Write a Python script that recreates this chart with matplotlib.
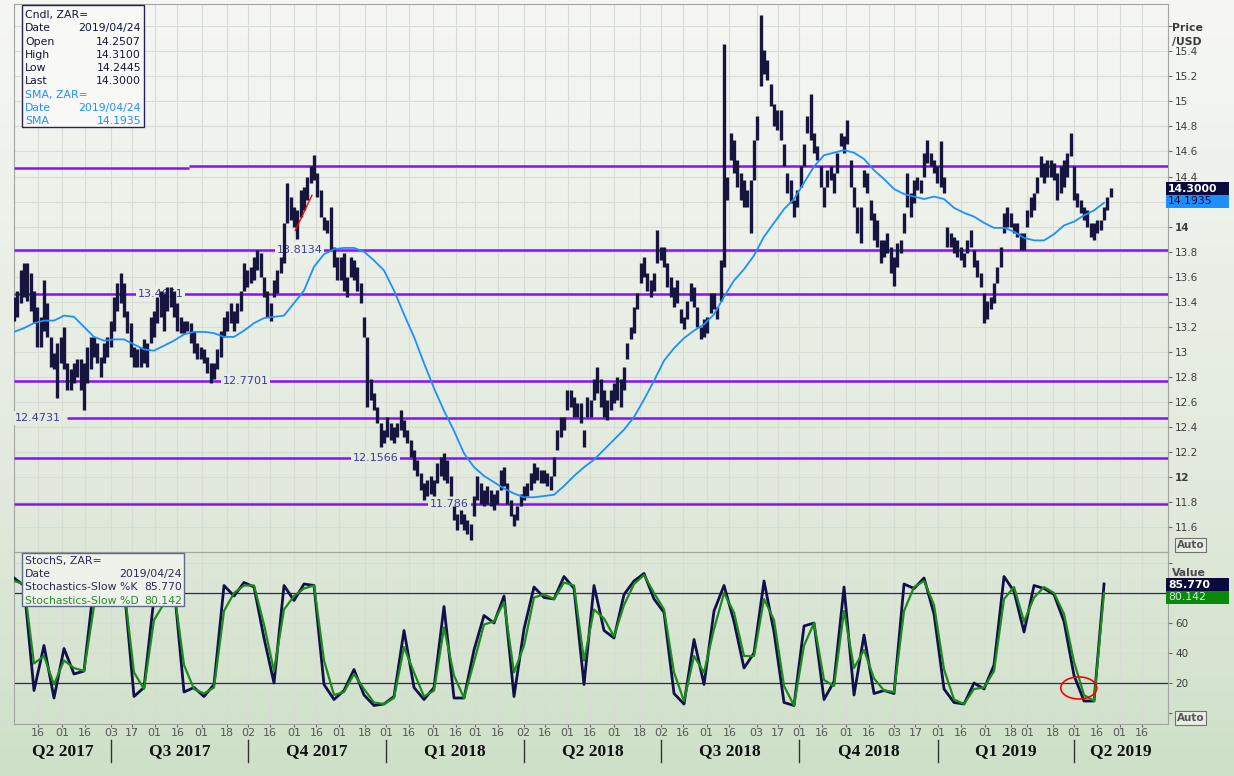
import numpy as np
import matplotlib.pyplot as plt
from matplotlib.patches import Rectangle, Ellipse
from matplotlib.transforms import blended_transform_factory

W, H = 1234, 776

# ---- data ----
base_date = np.datetime64('2017-04-30')
x_end = 763.0  # days shown after base_date

candle_step = 2.204  # days between candle samples
candle_hi = [
    13.44, 13.49, 13.65, 13.71, 13.71, 13.63, 13.49, 13.36, 13.28, 13.57,
    13.39, 13.12, 12.99, 13.07, 13.12, 13.20, 12.91, 12.86, 12.91, 12.94,
    12.94, 12.91, 13.04, 13.12, 13.12, 13.07, 12.96, 13.07, 13.12, 13.25,
    13.44, 13.55, 13.63, 13.55, 13.33, 13.23, 13.04, 13.02, 13.04, 13.10,
    13.07, 13.28, 13.33, 13.44, 13.49, 13.47, 13.52, 13.52, 13.49, 13.39,
    13.28, 13.25, 13.25, 13.23, 13.17, 13.07, 13.04, 13.02, 12.96, 12.91,
    12.91, 13.02, 13.17, 13.28, 13.33, 13.39, 13.33, 13.39, 13.49, 13.71,
    13.65, 13.68, 13.76, 13.81, 13.79, 13.60, 13.49, 13.39, 13.57, 13.65,
    13.76, 14.03, 14.35, 14.24, 14.16, 14.13,
    14.29, 14.32, 14.40, 14.48, 14.57, 14.43, 14.29, 14.08, 14.05, 14.16,
    13.84, 13.76, 13.76, 13.79, 13.60, 13.76, 13.73, 13.68, 13.55, 13.28,
    13.12, 12.78, 12.67, 12.56, 12.43, 12.38, 12.48, 12.43, 12.40, 12.43,
    12.54, 12.46, 12.38, 12.30, 12.22, 12.14, 12.03, 11.95, 11.98, 12.01,
    11.98, 12.11, 12.16, 12.19, 12.14, 12.01, 11.77, 11.71, 11.74, 11.71,
    11.66, 11.63, 11.85, 12.01, 11.95, 11.90, 11.93, 11.90, 11.87, 11.90,
    12.06, 12.08, 11.95, 11.82, 11.71, 11.77, 11.87, 11.93, 11.95, 12.03,
    12.11, 12.08, 12.06, 12.06, 12.03, 12.01, 12.16, 12.38, 12.48, 12.48,
    12.70, 12.70, 12.64, 12.59, 12.59, 12.38,
    12.64, 12.62, 12.78, 12.88, 12.78, 12.70, 12.62, 12.70, 12.75, 12.80,
    12.78, 12.88, 13.07, 13.20, 13.36, 13.47, 13.71, 13.76, 13.63, 13.57,
    13.63, 13.97, 13.84, 13.84, 13.71, 13.60, 13.52, 13.57, 13.34, 13.28,
    13.41, 13.55, 13.52, 13.36, 13.20, 13.26, 13.28, 13.47, 13.47, 13.36,
    13.73, 15.46, 14.40, 14.75, 14.69, 14.53, 14.43, 14.37, 14.29, 14.37,
    14.69, 14.88, 15.69, 15.41, 15.33, 15.14, 14.98, 14.93, 14.93, 14.66,
    14.43, 14.37, 14.21, 14.29, 14.48, 14.66, 14.88, 15.06, 14.75, 14.64,
    14.48, 14.32, 14.45, 14.48, 14.43, 14.59, 14.75, 14.72, 14.85, 14.53,
    14.32, 14.16, 14.16, 14.45, 14.43, 14.21,
    14.11, 14.05, 13.89, 13.89, 13.95, 13.84, 13.76, 13.87, 13.89, 14.11,
    14.43, 14.27, 14.37, 14.40, 14.37, 14.59, 14.69, 14.59, 14.53, 14.48,
    14.68, 14.40, 14.00, 13.95, 13.92, 13.89, 13.84, 13.79, 13.89, 13.97,
    13.81, 13.73, 13.63, 13.47, 13.41, 13.44, 13.55, 13.68, 13.84, 14.11,
    14.16, 14.11, 14.03, 14.03, 13.95, 13.95, 14.13, 14.24, 14.27, 14.40,
    14.56, 14.51, 14.53, 14.53, 14.51, 14.43, 14.48, 14.53, 14.59, 14.75,
    14.48, 14.27, 14.21, 14.16, 14.13, 14.03, 14.03, 14.05, 14.05, 14.16,
    14.24, 14.31,
]
candle_lo = [
    13.25, 13.28, 13.39, 13.44, 13.41, 13.33, 13.23, 13.04, 13.04, 13.17,
    13.12, 12.88, 12.86, 12.63, 12.91, 12.86, 12.70, 12.70, 12.75, 12.80,
    12.70, 12.54, 12.75, 12.86, 12.96, 12.91, 12.80, 12.91, 12.96, 13.04,
    13.17, 13.33, 13.39, 13.28, 13.15, 12.96, 12.88, 12.88, 12.88, 12.91,
    12.88, 13.07, 13.12, 13.23, 13.28, 13.17, 13.33, 13.36, 13.28, 13.17,
    13.15, 13.15, 13.17, 13.07, 12.99, 12.94, 12.94, 12.91, 12.83, 12.75,
    12.78, 12.86, 12.96, 13.12, 13.17, 13.23, 13.17, 13.23, 13.33, 13.49,
    13.52, 13.55, 13.57, 13.65, 13.60, 13.44, 13.28, 13.25, 13.44, 13.47,
    13.63, 13.71, 14.03, 14.05, 14.00, 13.90,
    14.08, 14.13, 14.21, 14.35, 14.37, 14.24, 14.08, 13.97, 13.95, 13.81,
    13.68, 13.57, 13.57, 13.49, 13.44, 13.60, 13.57, 13.49, 13.39, 13.12,
    12.56, 12.62, 12.54, 12.43, 12.24, 12.27, 12.32, 12.30, 12.27, 12.32,
    12.38, 12.32, 12.27, 12.16, 12.06, 12.01, 11.90, 11.82, 11.85, 11.87,
    11.85, 11.95, 12.01, 11.98, 11.95, 11.85, 11.66, 11.58, 11.63, 11.58,
    11.55, 11.50, 11.69, 11.82, 11.79, 11.77, 11.79, 11.77, 11.74, 11.79,
    11.90, 11.93, 11.79, 11.69, 11.61, 11.66, 11.77, 11.82, 11.85, 11.90,
    11.95, 11.98, 11.95, 11.95, 11.93, 11.90, 12.01, 12.22, 12.32, 12.38,
    12.54, 12.56, 12.48, 12.48, 12.43, 12.24,
    12.48, 12.48, 12.62, 12.67, 12.56, 12.48, 12.46, 12.54, 12.59, 12.62,
    12.56, 12.70, 12.94, 13.10, 13.15, 13.34, 13.55, 13.60, 13.49, 13.44,
    13.49, 13.71, 13.73, 13.68, 13.52, 13.44, 13.36, 13.39, 13.23, 13.18,
    13.26, 13.41, 13.36, 13.20, 13.10, 13.12, 13.15, 13.31, 13.34, 13.26,
    13.41, 13.68, 14.21, 14.53, 14.43, 14.32, 14.21, 14.16, 14.16, 13.95,
    14.37, 14.69, 15.12, 15.22, 15.17, 14.96, 14.80, 14.77, 14.69, 14.48,
    14.27, 14.19, 14.08, 14.16, 14.32, 14.48, 14.75, 14.69, 14.59, 14.53,
    14.32, 14.16, 14.32, 14.37, 14.27, 14.43, 14.64, 14.59, 14.66, 14.32,
    14.16, 13.95, 13.87, 14.32, 14.27, 14.05,
    13.89, 13.84, 13.71, 13.76, 13.79, 13.63, 13.53, 13.68, 13.79, 13.95,
    14.16, 14.08, 14.19, 14.29, 14.27, 14.40, 14.51, 14.48, 14.43, 14.35,
    14.32, 14.27, 13.84, 13.84, 13.79, 13.76, 13.73, 13.68, 13.79, 13.84,
    13.68, 13.60, 13.52, 13.23, 13.26, 13.34, 13.39, 13.55, 13.68, 13.95,
    14.00, 14.00, 13.95, 13.92, 13.81, 13.81, 14.00, 14.08, 14.13, 14.27,
    14.40, 14.35, 14.40, 14.40, 14.37, 14.21, 14.27, 14.32, 14.40, 14.56,
    14.21, 14.16, 14.11, 14.05, 14.00, 13.92, 13.89, 13.95, 13.97, 14.05,
    14.13, 14.24,
]

sma_step = 6.612
sma_vals = [
    13.16, 13.19, 13.23, 13.25, 13.25, 13.29, 13.28, 13.20, 13.12, 13.09,
    13.10, 13.10, 13.06, 13.02, 13.01, 13.05, 13.09, 13.14, 13.16, 13.16,
    13.15, 13.12, 13.12, 13.17, 13.23, 13.27, 13.28, 13.29, 13.39, 13.49,
    13.68, 13.78, 13.82, 13.83, 13.83, 13.80, 13.73, 13.65, 13.49, 13.30,
    13.12, 12.91, 12.71, 12.53, 12.37, 12.19, 12.08, 12.01, 11.96, 11.91,
    11.87, 11.84, 11.84, 11.85, 11.86, 11.93, 12.01, 12.08, 12.14, 12.22,
    12.30, 12.38, 12.48, 12.62, 12.77, 12.93, 13.03, 13.11, 13.17, 13.22,
    13.30, 13.44, 13.57, 13.66, 13.77, 13.92, 14.03, 14.14, 14.22, 14.35,
    14.48, 14.57, 14.59, 14.61, 14.59, 14.54, 14.45, 14.38, 14.30, 14.26,
    14.24, 14.22, 14.24, 14.22, 14.15, 14.11, 14.08, 14.03, 13.99, 13.99,
    13.96, 13.91, 13.89, 13.89, 13.94, 14.01, 14.04, 14.09, 14.13, 14.19,
]

stoch_step = 6.612
stoch_k = [
    90, 85, 15, 45, 10, 43, 26, 28, 86, 78,
    80, 85, 11, 17, 77, 72, 85, 14, 17, 11,
    19, 85, 78, 87, 84, 50, 20, 85, 75, 86,
    85, 19, 9, 15, 29, 12, 5, 6, 11, 55,
    17, 9, 17, 71, 10, 10, 42, 65, 60, 78,
    11, 56, 84, 77, 76, 91, 83, 19, 85, 55,
    50, 79, 88, 93, 76, 67, 13, 6, 49, 19,
    68, 85, 61, 30, 40, 88, 54, 7, 5, 58,
    60, 9, 21, 84, 12, 52, 13, 15, 13, 86,
    83, 90, 66, 16, 7, 6, 20, 16, 32, 91,
    81, 54, 85, 83, 79, 61, 25, 8, 8, 86,
]
stoch_d = [
    88, 86, 33, 38, 19, 35, 30, 28, 71, 80,
    80, 84, 27, 16, 62, 73, 82, 32, 16, 13,
    17, 68, 80, 85, 85, 59, 28, 69, 78, 83,
    85, 35, 12, 14, 26, 16, 7, 6, 10, 44,
    27, 11, 15, 57, 25, 10, 34, 59, 61, 74,
    27, 45, 77, 79, 76, 87, 85, 35, 69, 63,
    51, 72, 86, 92, 80, 69, 27, 8, 38, 27,
    56, 80, 67, 38, 38, 76, 62, 18, 5, 45,
    60, 22, 18, 68, 30, 42, 23, 15, 14, 68,
    84, 88, 72, 29, 9, 6, 16, 17, 28, 76,
    84, 61, 77, 84, 80, 66, 34, 12, 8, 80,
]

levels = [13.8134, 13.4651, 12.7701, 12.4731, 12.1566, 11.786]
level_text = ['13.8134', '13.4651', '12.7701', '12.4731', '12.1566', '11.786']
level_label_at = ['2017-11-05', '2017-08-05', '2017-09-30', '2017-05-16', '2017-12-25', '2018-02-12']
top_level_left, top_level_right = 14.465, 14.48

tick_dates = ['2017-05-16', '2017-06-01', '2017-06-16', '2017-07-03', '2017-07-17', '2017-08-01',
              '2017-08-16', '2017-09-01', '2017-09-18', '2017-10-02', '2017-10-16', '2017-11-01',
              '2017-11-16', '2017-12-01', '2017-12-18', '2018-01-01', '2018-01-16', '2018-02-01',
              '2018-02-16', '2018-03-01', '2018-03-16', '2018-04-02', '2018-04-16', '2018-05-01',
              '2018-05-16', '2018-06-01', '2018-06-18', '2018-07-02', '2018-07-16', '2018-08-01',
              '2018-08-16', '2018-09-03', '2018-09-17', '2018-10-01', '2018-10-16', '2018-11-01',
              '2018-11-16', '2018-12-03', '2018-12-17', '2019-01-01', '2019-01-16', '2019-02-01',
              '2019-02-18', '2019-03-01', '2019-03-18', '2019-04-01', '2019-04-16', '2019-05-01',
              '2019-05-16']
quarter_starts = ['2017-07-03', '2017-10-02', '2018-01-01', '2018-04-02',
                  '2018-07-02', '2018-10-01', '2019-01-01', '2019-04-01']
quarter_names = ['Q2 2017', 'Q3 2017', 'Q4 2017', 'Q1 2018', 'Q2 2018',
                 'Q3 2018', 'Q4 2018', 'Q1 2019', 'Q2 2019']


def days(s):
    return (np.datetime64(s) - base_date) / np.timedelta64(1, 'D')


def P(x, y):
    # pixel position -> figure fraction
    return x / W, 1 - y / H


# background gradient, top to bottom
stop_y = [0, 552 / H, 1]
stop_c = np.array([[246, 247, 244], [222, 232, 217], [206, 224, 199]]) / 255


def bg_color(ypx):
    f = ypx / H
    return tuple(np.interp(f, stop_y, stop_c[:, i]) for i in range(3))


fig = plt.figure(figsize=(W / 100, H / 100), dpi=100)
bg = fig.add_axes([0, 0, 1, 1], zorder=-5)
gy = np.linspace(0, 1, 500)
grad = np.stack([np.interp(gy, stop_y, stop_c[:, i]) for i in range(3)], axis=-1)[:, None, :]
bg.imshow(grad, aspect='auto', extent=[0, 1, 0, 1])
bg.axis('off')

navy = '#15153d'
purple = '#8a0dff'
gridc = '#d8dcd5'
spinec = '#a2a5a0'

# ---- main price panel ----
ax = fig.add_axes([14 / W, 1 - 552 / H, 1154 / W, 548 / H], zorder=1)
ax.set_facecolor('none')
ax.set_xlim(0, x_end)
ax.set_ylim(11.4032, 15.7767)

tick_x = [days(d) for d in tick_dates]
ax.set_xticks(tick_x)
ax.set_xticklabels([])
ax.tick_params(axis='x', length=0)

yt = np.round(np.arange(11.6, 15.61, 0.2), 1)
ax.set_yticks(yt)
ylab = []
for v in yt:
    s = ('%.1f' % v).rstrip('0').rstrip('.')
    ylab.append('' if v in (14.2, 15.6) else s)
ax.set_yticklabels(ylab)
ax.yaxis.tick_right()
ax.tick_params(axis='y', direction='out', length=3, width=0.8, color='#6a6a6a',
               pad=2, labelsize=7.5, labelcolor='#3c3c3c')
for t, v in zip(ax.get_yticklabels(), yt):
    if v in (12.0, 14.0):
        t.set_fontweight('bold')
ax.grid(True, color=gridc, lw=0.8)
ax.set_axisbelow(True)
for sp in ax.spines.values():
    sp.set_color(spinec)
    sp.set_linewidth(0.8)

# support / resistance lines
split = days('2017-08-24')
ax.hlines(top_level_left, 0, split, color=purple, lw=1.8, zorder=3)
ax.hlines(top_level_right, split, x_end, color=purple, lw=1.8, zorder=3)
for v, txt, d in zip(levels, level_text, level_label_at):
    x0 = days('2017-06-04') if txt == '12.4731' else 0
    ax.hlines(v, x0, x_end, color=purple, lw=1.8, zorder=3)
    ypx = 250 - (v - 13.8134) * 125.3
    ax.text(days(d), v, txt, ha='center', va='center', fontsize=8, color='#3b3b9e',
            zorder=4, bbox=dict(facecolor=bg_color(ypx), edgecolor='none', pad=1.2))

cx = np.arange(len(candle_hi)) * candle_step
ax.vlines(cx, candle_lo, candle_hi, color=navy, lw=2.4, zorder=5)
sx = np.arange(len(sma_vals)) * sma_step
ax.plot(sx, sma_vals, color='#1e8fff', lw=1.3, zorder=6)
ax.plot([days('2017-11-02'), days('2017-11-13')], [13.97, 14.25], color='red', lw=1.0, zorder=7)

# ---- stochastics panel ----
ax2 = fig.add_axes([14 / W, 1 - 724 / H, 1154 / W, 172 / H], zorder=1)
ax2.set_facecolor('none')
ax2.set_xlim(0, x_end)
ax2.set_ylim(-7.33, 107.33)
ax2.set_xticks(tick_x)
ax2.set_xticklabels([d[-2:] for d in tick_dates])
ax2.tick_params(axis='x', direction='out', length=2.5, width=0.8, color='#6a6a6a',
                pad=0.5, labelsize=8, labelcolor='#555555')
ax2.set_yticks([0, 20, 40, 60, 80, 100])
ax2.set_yticklabels(['', '20', '40', '60', '', ''])
ax2.yaxis.tick_right()
ax2.tick_params(axis='y', direction='out', length=3, width=0.8, color='#6a6a6a',
                pad=2, labelsize=7.5, labelcolor='#3c3c3c')
ax2.grid(True, color=gridc, lw=0.8)
ax2.set_axisbelow(True)
for sp in ax2.spines.values():
    sp.set_color(spinec)
    sp.set_linewidth(0.8)
ax2.axhline(80, color='#2a2a5c', lw=0.9, zorder=2)
ax2.axhline(20, color='#2a2a5c', lw=0.9, zorder=2)

kx = np.arange(len(stoch_k)) * stoch_step
ax2.plot(kx, stoch_k, color='#10104a', lw=2.0, zorder=4)
ax2.plot(kx, stoch_d, color='#1d8a1d', lw=1.6, zorder=5)
ax2.add_patch(Ellipse((days('2019-04-04'), 16.7), 23.8, 14.7, fill=False,
                      edgecolor='red', lw=1.2, zorder=6))

# quarter labels under the axis
tr = blended_transform_factory(ax2.transData, ax2.transAxes)
bounds = [0] + [days(q) for q in quarter_starts] + [x_end]
for xq in bounds[1:-1]:
    ax2.plot([xq, xq], [-0.095, -0.22], transform=tr, color='#333333', lw=1.0, clip_on=False)
for name, a, b in zip(quarter_names, bounds[:-1], bounds[1:]):
    ax2.text((a + b) / 2, -0.157, name, transform=tr, ha='center', va='center',
             fontsize=12.5, fontweight='bold', family='Liberation Serif', color='#111111')

# ---- legend boxes ----
fig.patches.append(Rectangle(P(22, 127), 122 / W, 122 / H, transform=fig.transFigure,
                             facecolor='#f8f9f6', edgecolor='#24244f', lw=1.0, zorder=10))
rows1 = [('Cndl, ZAR=', '', navy), ('Date', '2019/04/24', navy), ('Open', '14.2507', navy),
         ('High', '14.3100', navy), ('Low', '14.2445', navy), ('Last', '14.3000', navy),
         ('SMA, ZAR=', '', '#1e8fff'), ('Date', '2019/04/24', '#1e8fff'), ('SMA', '14.1935', '#1e8fff')]
for i, (a, b, c) in enumerate(rows1):
    y = 15 + i * 13.3
    fig.text(*P(25, y), a, fontsize=7.8, color=c, va='center', zorder=11)
    fig.text(*P(141, y), b, fontsize=7.8, color=c, va='center', ha='right', zorder=11)

fig.patches.append(Rectangle(P(22, 606), 162 / W, 53 / H, transform=fig.transFigure,
                             facecolor='#edf2ea', edgecolor='#5a6a88', lw=1.0, zorder=10))
rows2 = [('StochS, ZAR=', '', '#2a2a55'), ('Date', '2019/04/24', '#2a2a55'),
         ('Stochastics-Slow %K', '85.770', '#2a2a55'), ('Stochastics-Slow %D', '80.142', '#2a8a2a')]
for i, (a, b, c) in enumerate(rows2):
    y = 561 + i * 13.2
    fig.text(*P(25, y), a, fontsize=7.8, color=c, va='center', zorder=11)
    fig.text(*P(182, y), b, fontsize=7.8, color=c, va='center', ha='right', zorder=11)

# ---- right-hand labels and value boxes ----
fig.text(*P(1172, 28), 'Price', fontsize=7.8, fontweight='bold', color='#3c3c3c', va='center')
fig.text(*P(1172, 42), '/USD', fontsize=7.8, fontweight='bold', color='#3c3c3c', va='center')
fig.text(*P(1172, 573), 'Value', fontsize=7.8, fontweight='bold', color='#4a4a4a', va='center')


def value_box(y0, txt, face, color, weight='bold'):
    fig.patches.append(Rectangle(P(1166, y0 + 13), 63 / W, 13 / H, transform=fig.transFigure,
                                 facecolor=face, edgecolor='none', zorder=10))
    fig.text(*P(1168, y0 + 6.5), txt, fontsize=7.8, fontweight=weight, color=color,
             va='center', zorder=11)


value_box(182, '14.3000', '#0a0a3c', 'white')
value_box(195, '14.1935', '#1e8fff', '#0a0a3c', 'normal')
value_box(578, '85.770', '#0a0a3c', 'white')
value_box(591, '80.142', '#0a8a0a', '#d8f0d8', 'normal')

for y in (545, 718):
    fig.text(*P(1177, y), 'Auto', fontsize=7.5, fontweight='bold', color='#555555', va='center',
             bbox=dict(boxstyle='square,pad=0.15', facecolor='#e6eee2', edgecolor='#707070', lw=0.8))

fig.savefig('out.png', dpi=100)
